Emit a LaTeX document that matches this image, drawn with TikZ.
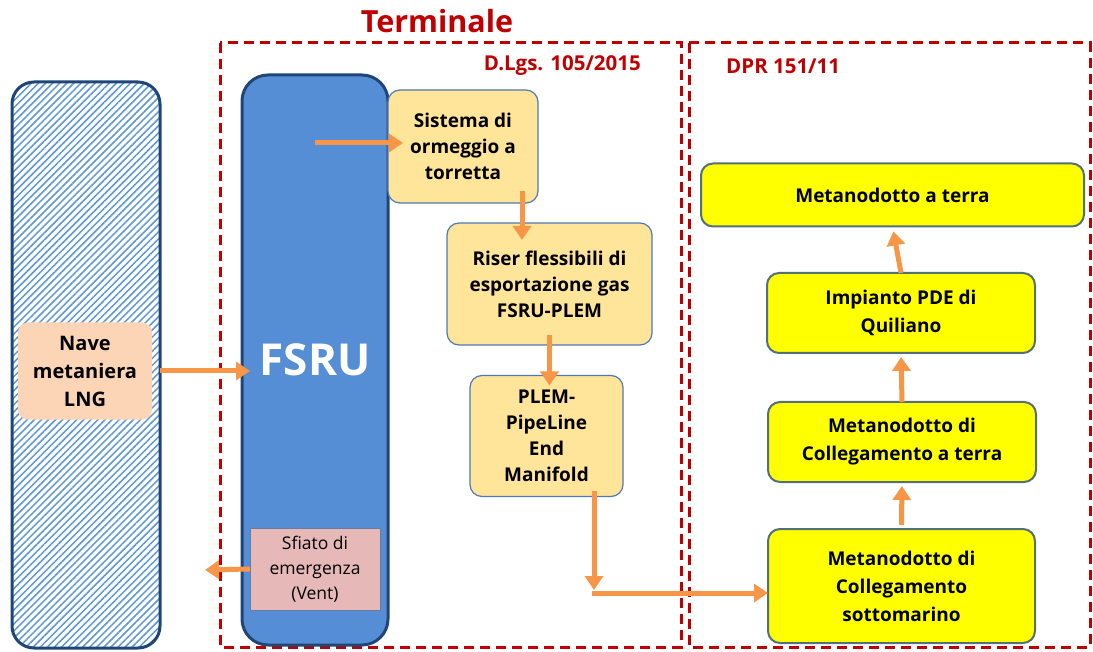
\documentclass[tikz,border=0pt]{standalone}
\usepackage{fontspec}
\setmainfont{Open Sans}
\usetikzlibrary{arrows.meta,patterns.meta}
\definecolor{dred}{RGB}{192,0,0}
\definecolor{dblue}{RGB}{32,70,120}
\definecolor{hatch}{RGB}{91,150,215}
\definecolor{fsrublue}{RGB}{85,142,213}
\definecolor{lightor}{RGB}{255,229,153}
\definecolor{peach}{RGB}{251,213,181}
\definecolor{rose}{RGB}{230,185,184}
\definecolor{orarrow}{RGB}{247,150,70}
\definecolor{ybord}{RGB}{84,110,122}
\definecolor{obord}{RGB}{80,120,180}
\definecolor{pureyellow}{RGB}{255,255,0}
\tikzset{
  bx/.style={rectangle, inner sep=0pt, outer sep=0pt, align=center, text=black},
  orbox/.style={bx, rounded corners=12pt, fill=lightor, draw=obord, line width=1.2pt, font=\fontsize{19}{26}\selectfont\bfseries},
  ybox/.style={bx, rounded corners=12pt, fill=pureyellow, draw=ybord, line width=2pt, font=\fontsize{19}{28}\selectfont\bfseries},
  arr/.style={draw=orarrow, line width=5pt, -{Triangle[width=18pt,length=14pt]}},
  redbox/.style={draw=dred, line width=3pt, dash pattern=on 10pt off 6pt},
  redlab/.style={text=dred, font=\fontsize{20.5}{22}\selectfont\bfseries, inner sep=0pt}
}
\begin{document}
\begin{tikzpicture}[x=1pt,y=-1pt]
\useasboundingbox (0,0) rectangle (1093,652);
% dashed regions
\draw[redbox] (220,43) rectangle (681,647);
\draw[redbox] (689,43) rectangle (1090,647);
\node[text=dred, font=\fontsize{30.5}{32}\selectfont\bfseries, inner sep=0pt] (title) at (437,21) {Terminale};
\node[redlab, anchor=east] (dlgs) at (641,66) {D.Lgs. 105/2015};
\node[redlab, anchor=west] (dpr) at (726,66) {DPR 151/11};
% ship
\node[bx, rounded corners=22pt, minimum width=148pt, minimum height=566pt, draw=dblue, line width=3pt,
  fill=white, pattern={Lines[angle=45,distance=5pt,line width=1.5pt]}, pattern color=hatch] (ship) at (86,365) {};
\node[bx, rounded corners=10pt, fill=peach, minimum width=134pt, minimum height=97pt,
  font=\fontsize{20}{28}\selectfont\bfseries] (nave) at (85,371) {Nave\\metaniera\\LNG};
% FSRU
\node[bx, rounded corners=26pt, minimum width=146pt, minimum height=570pt, draw=dblue, line width=3pt,
  fill=fsrublue] (fsru) at (315,360) {};
\node[text=white, font=\fontsize{44}{46}\selectfont\bfseries, inner sep=0pt] (fsrulab) at (315,360) {FSRU};
\node[bx, minimum width=130pt, minimum height=82pt, fill=rose, draw=dblue!70, line width=1pt,
  font=\fontsize{17.5}{25}\selectfont] (vent) at (315,569) {Sfiato di\\emergenza\\(Vent)};
% left column boxes
\node[orbox, minimum width=150pt, minimum height=113pt] (sist) at (463,146.5) {Sistema di\\ormeggio a\\torretta};
\node[orbox, minimum width=205pt, minimum height=122pt] (riser) at (549.5,284) {Riser flessibili di\\esportazione gas\\FSRU-PLEM};
\node[orbox, minimum width=153pt, minimum height=121pt] (plem) at (546.5,436) {PLEM-\\PipeLine\\End\\Manifold};
% right column boxes
\node[ybox, minimum width=383pt, minimum height=63pt] (terra) at (892.5,195) {Metanodotto a terra};
\node[ybox, minimum width=268pt, minimum height=80pt] (pde) at (901,313) {Impianto PDE di\\Quiliano};
\node[ybox, minimum width=268pt, minimum height=80pt] (colt) at (902,442) {Metanodotto di\\Collegamento a terra};
\node[ybox, minimum width=267pt, minimum height=114pt] (sott) at (901.5,586) {Metanodotto di\\Collegamento\\sottomarino};
% coordinates
\coordinate (fsrustart) at (315,143);
\coordinate (ventend) at (205,570);
\coordinate (bend) at (594,593);
% arrows
\draw[arr] (ship.east |- nave.east) -- ([xshift=8pt]fsru.west |- nave.east);
\draw[arr] (fsrustart) -- ([xshift=15pt]sist.west |- fsrustart);
\draw[arr] (vent.west) -- (ventend);
\draw[arr] ([xshift=-16pt,yshift=12pt]sist.south east) -- ([xshift=-16pt,yshift=-17pt]sist.south east |- riser.north);
\draw[arr] ([yshift=10pt]riser.south) -- ([yshift=-10pt]riser.south |- plem.north);
\draw[arr] ([xshift=-29pt,yshift=6pt]plem.south east) -- ([yshift=3pt]bend);
\draw[arr] ([xshift=-2.5pt]bend) -- (sott.west |- bend);
\draw[arr, shorten >=4pt] ([yshift=4pt]sott.north) -- (colt.south);
\draw[arr, shorten >=4pt] (colt.north) -- (pde.south);
\draw[arr, shorten >=5pt] (pde.north) -- (terra.south);
\end{tikzpicture}
\end{document}
